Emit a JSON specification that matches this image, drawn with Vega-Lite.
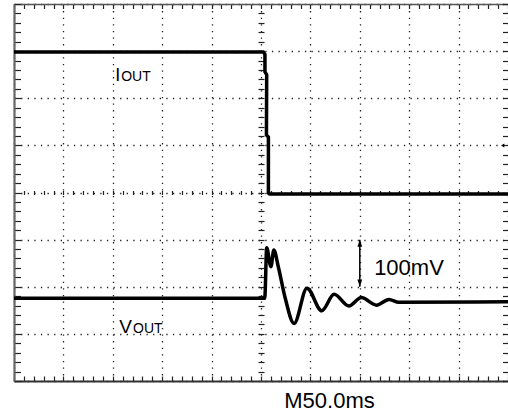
{
  "$schema": "https://vega.github.io/schema/vega-lite/v6.json",
  "width": 494,
  "height": 377,
  "padding": {"left": 14, "top": 4, "right": 0, "bottom": 33},
  "autosize": {"type": "none"},
  "background": "white",
  "config": {"view": {"stroke": null}, "font": "Liberation Sans"},
  "datasets": {
    "iout": [
      {"t": 0, "v": 2.98},
      {"t": 5.05, "v": 2.98},
      {"t": 5.08, "v": 2.93},
      {"t": 5.08, "v": 2.56},
      {"t": 5.115, "v": 2.5},
      {"t": 5.11, "v": 1.22},
      {"t": 5.15, "v": 1.18},
      {"t": 5.15, "v": -0.01},
      {"t": 5.17, "v": -0.03},
      {"t": 10, "v": -0.03}
    ],
    "vout": [
      {"t": 0, "v": -2.245},
      {"t": 5.07, "v": -2.245},
      {"t": 5.08, "v": -2.2},
      {"t": 5.115, "v": -1.17},
      {"t": 5.2, "v": -1.575},
      {"t": 5.26, "v": -1.22},
      {"t": 5.35, "v": -1.575},
      {"t": 5.49, "v": -2.24},
      {"t": 5.67, "v": -2.78},
      {"t": 5.93, "v": -2.03},
      {"t": 6.23, "v": -2.51},
      {"t": 6.48, "v": -2.16},
      {"t": 6.78, "v": -2.41},
      {"t": 7.03, "v": -2.23},
      {"t": 7.34, "v": -2.39},
      {"t": 7.59, "v": -2.27},
      {"t": 7.79, "v": -2.33},
      {"t": 10, "v": -2.32}
    ],
    "arrow": [{"t": 7, "top": -1, "bottom": -2}],
    "trigger": [{"t": 9.86, "v": 1}],
    "bigI": [{"t": 2.05, "v": 2.37, "label": "I"}],
    "bigV": [{"t": 2.13, "v": -2.99, "label": "V"}],
    "sub": [
      {"t": 2.17, "v": 2.37, "label": "OUT"},
      {"t": 2.41, "v": -2.99, "label": "OUT"}
    ],
    "scaleLabel": [{"t": 7.29, "v": -1.76, "label": "100mV"}]
  },
  "resolve": {"axis": {"x": "independent", "y": "independent"}},
  "layer": [
    {
      "data": {"name": "iout"},
      "mark": {"type": "line", "color": "black", "strokeWidth": 3.5, "strokeJoin": "round"},
      "encoding": {
        "x": {
          "field": "t", "type": "quantitative",
          "scale": {"domain": [0, 10], "nice": false, "zero": false},
          "axis": {
            "orient": "bottom",
            "values": [0,0.2,0.4,0.6,0.8,1,1.2,1.4,1.6,1.8,2,2.2,2.4,2.6,2.8,3,3.2,3.4,3.6,3.8,4,4.2,4.4,4.6,4.8,5,5.2,5.4,5.6,5.8,6,6.2,6.4,6.6,6.8,7,7.2,7.4,7.6,7.8,8,8.2,8.4,8.6,8.8,9,9.2,9.4,9.6,9.8,10],
            "labels": false,
            "tickSize": -5,
            "tickColor": "#222",
            "tickWidth": 1.2,
            "domainColor": "#333",
            "domainWidth": 2,
            "grid": true,
            "gridColor": "#222",
            "gridWidth": 1.3,
            "gridDash": [1.3, 5.3],
            "gridOpacity": {"condition": {"test": "datum.value % 1 === 0", "value": 1}, "value": 0},
            "title": "M50.0ms",
            "titleFont": "Liberation Sans",
            "titleFontSize": 22,
            "titleFontWeight": "normal",
            "titleColor": "black",
            "titleX": 315,
            "titleY": 26,
            "titleAlign": "center",
            "titleBaseline": "alphabetic"
          }
        },
        "y": {
          "field": "v", "type": "quantitative",
          "scale": {"domain": [-4, 4], "nice": false, "zero": false},
          "axis": {
            "orient": "left",
            "values": [-4,-3.8,-3.6,-3.4,-3.2,-3,-2.8,-2.6,-2.4,-2.2,-2,-1.8,-1.6,-1.4,-1.2,-1,-0.8,-0.6,-0.4,-0.2,0,0.2,0.4,0.6,0.8,1,1.2,1.4,1.6,1.8,2,2.2,2.4,2.6,2.8,3,3.2,3.4,3.6,3.8,4],
            "labels": false,
            "tickSize": -6.5,
            "tickColor": "#222",
            "tickWidth": 1.2,
            "domainColor": "#666",
            "domainWidth": 2.2,
            "grid": true,
            "gridColor": "#222",
            "gridWidth": 1.3,
            "gridDash": [1.3, 5.3],
            "gridOpacity": {"condition": {"test": "datum.value % 1 === 0", "value": 1}, "value": 0},
            "title": null
          }
        },
        "order": {"value": null}
      }
    },
    {
      "data": {"name": "vout"},
      "mark": {"type": "line", "color": "black", "strokeWidth": 3.5, "strokeJoin": "round", "interpolate": "monotone"},
      "encoding": {
        "x": {
          "field": "t", "type": "quantitative",
          "scale": {"domain": [0, 10], "nice": false, "zero": false},
          "axis": {
            "orient": "top",
            "values": [0,0.2,0.4,0.6,0.8,1,1.2,1.4,1.6,1.8,2,2.2,2.4,2.6,2.8,3,3.2,3.4,3.6,3.8,4,4.2,4.4,4.6,4.8,5,5.2,5.4,5.6,5.8,6,6.2,6.4,6.6,6.8,7,7.2,7.4,7.6,7.8,8,8.2,8.4,8.6,8.8,9,9.2,9.4,9.6,9.8,10],
            "labels": false,
            "tickSize": -4.5,
            "tickColor": "#222",
            "tickWidth": 1.2,
            "domainColor": "#555",
            "domainWidth": 1.5,
            "grid": false,
            "title": null
          }
        },
        "y": {
          "field": "v", "type": "quantitative",
          "scale": {"domain": [-4, 4], "nice": false, "zero": false},
          "axis": {
            "orient": "right",
            "values": [-4,-3.8,-3.6,-3.4,-3.2,-3,-2.8,-2.6,-2.4,-2.2,-2,-1.8,-1.6,-1.4,-1.2,-1,-0.8,-0.6,-0.4,-0.2,0,0.2,0.4,0.6,0.8,1,1.2,1.4,1.6,1.8,2,2.2,2.4,2.6,2.8,3,3.2,3.4,3.6,3.8,4],
            "labels": false,
            "tickSize": -5.5,
            "tickColor": "#222",
            "tickWidth": 1.2,
            "domain": false,
            "grid": false,
            "title": null
          }
        }
      }
    },
    {
      "data": {"name": "arrow"},
      "mark": {"type": "rule", "color": "black", "strokeWidth": 1.5},
      "encoding": {
        "x": {
          "field": "t", "type": "quantitative",
          "scale": {"domain": [0, 10], "nice": false, "zero": false},
          "axis": {
            "orient": "bottom",
            "offset": -190.5,
            "values": [0.2,0.4,0.6,0.8,1,1.2,1.4,1.6,1.8,2,2.2,2.4,2.6,2.8,3,3.2,3.4,3.6,3.8,4,4.2,4.4,4.6,4.8,5,5.2,5.4,5.6,5.8,6,6.2,6.4,6.6,6.8,7,7.2,7.4,7.6,7.8,8,8.2,8.4,8.6,8.8,9,9.2,9.4,9.6,9.8],
            "labels": false,
            "tickSize": 4,
            "tickColor": "#222",
            "tickWidth": 1.2,
            "domain": false,
            "grid": false,
            "title": null
          }
        },
        "y": {
          "field": "top", "type": "quantitative",
          "scale": {"domain": [-4, 4], "nice": false, "zero": false},
          "axis": {
            "orient": "left",
            "offset": -250,
            "values": [-3.8,-3.6,-3.4,-3.2,-3,-2.8,-2.6,-2.4,-2.2,-2,-1.8,-1.6,-1.4,-1.2,-1,-0.8,-0.6,-0.4,-0.2,0,0.2,0.4,0.6,0.8,1,1.2,1.4,1.6,1.8,2,2.2,2.4,2.6,2.8,3,3.2,3.4,3.6,3.8],
            "labels": false,
            "tickSize": 6,
            "tickColor": "#222",
            "tickWidth": 1.2,
            "domain": false,
            "grid": false,
            "title": null
          }
        },
        "y2": {"field": "bottom"}
      }
    },
    {
      "data": {"name": "arrow"},
      "mark": {"type": "point", "shape": "M0,0L-0.6,1.8L0.6,1.8Z", "filled": true, "color": "black", "size": 64, "opacity": 1},
      "encoding": {
        "x": {"field": "t", "type": "quantitative", "scale": {"domain": [0, 10], "nice": false, "zero": false}, "axis": null},
        "y": {"field": "top", "type": "quantitative", "scale": {"domain": [-4, 4], "nice": false, "zero": false}, "axis": null}
      }
    },
    {
      "data": {"name": "arrow"},
      "mark": {"type": "point", "shape": "M0,0L-0.6,-1.8L0.6,-1.8Z", "filled": true, "color": "black", "size": 64, "opacity": 1},
      "encoding": {
        "x": {"field": "t", "type": "quantitative", "scale": {"domain": [0, 10], "nice": false, "zero": false}, "axis": null},
        "y": {"field": "bottom", "type": "quantitative", "scale": {"domain": [-4, 4], "nice": false, "zero": false}, "axis": null}
      }
    },
    {
      "data": {"name": "trigger"},
      "mark": {"type": "point", "shape": "M0,0L1.6,-1L1.6,1Z", "filled": true, "color": "black", "size": 16, "opacity": 1},
      "encoding": {
        "x": {"field": "t", "type": "quantitative", "scale": {"domain": [0, 10], "nice": false, "zero": false}, "axis": null},
        "y": {"field": "v", "type": "quantitative", "scale": {"domain": [-4, 4], "nice": false, "zero": false}, "axis": null}
      }
    },
    {
      "data": {"name": "bigI"},
      "mark": {"type": "text", "font": "Liberation Sans", "fontSize": 18, "color": "black", "align": "left", "baseline": "alphabetic"},
      "encoding": {
        "x": {"field": "t", "type": "quantitative", "scale": {"domain": [0, 10], "nice": false, "zero": false}, "axis": null},
        "y": {"field": "v", "type": "quantitative", "scale": {"domain": [-4, 4], "nice": false, "zero": false}, "axis": null},
        "text": {"field": "label"}
      }
    },
    {
      "data": {"name": "bigV"},
      "mark": {"type": "text", "font": "Liberation Sans", "fontSize": 19, "color": "black", "align": "left", "baseline": "alphabetic"},
      "encoding": {
        "x": {"field": "t", "type": "quantitative", "scale": {"domain": [0, 10], "nice": false, "zero": false}, "axis": null},
        "y": {"field": "v", "type": "quantitative", "scale": {"domain": [-4, 4], "nice": false, "zero": false}, "axis": null},
        "text": {"field": "label"}
      }
    },
    {
      "data": {"name": "sub"},
      "mark": {"type": "text", "font": "Liberation Sans", "fontSize": 14, "color": "black", "align": "left", "baseline": "alphabetic"},
      "encoding": {
        "x": {"field": "t", "type": "quantitative", "scale": {"domain": [0, 10], "nice": false, "zero": false}, "axis": null},
        "y": {"field": "v", "type": "quantitative", "scale": {"domain": [-4, 4], "nice": false, "zero": false}, "axis": null},
        "text": {"field": "label"}
      }
    },
    {
      "data": {"name": "scaleLabel"},
      "mark": {"type": "text", "font": "Liberation Sans", "fontSize": 22, "color": "black", "align": "left", "baseline": "alphabetic"},
      "encoding": {
        "x": {"field": "t", "type": "quantitative", "scale": {"domain": [0, 10], "nice": false, "zero": false}, "axis": null},
        "y": {"field": "v", "type": "quantitative", "scale": {"domain": [-4, 4], "nice": false, "zero": false}, "axis": null},
        "text": {"field": "label"}
      }
    }
  ]
}
